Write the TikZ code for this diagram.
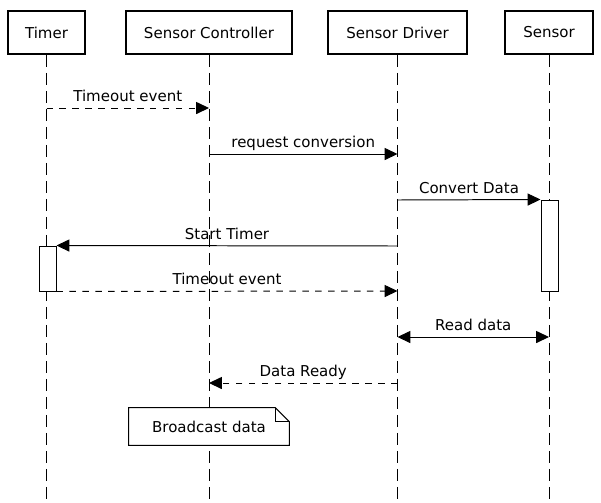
\documentclass[tikz,border=0pt]{standalone}
\usepackage{fontspec}
\setmainfont{DejaVu Sans}
\usetikzlibrary{arrows.meta}

\tikzset{
	actor/.style={draw, line width=1.4pt, minimum height=1.075cm, inner sep=0pt},
	lifeline/.style={line width=0.7pt, dash pattern=on 8.5pt off 4.3pt},
	msg/.style={->, line width=0.7pt},
	reply/.style={msg, dash pattern=on 4.6pt off 4.6pt},
	act/.style={draw, fill=white, line width=0.7pt, minimum width=0.425cm, inner sep=0pt},
	note/.style={fill=white, minimum width=4cm, minimum height=0.925cm, inner sep=0pt},
	txt/.style={midway, above, inner sep=4.3pt, text depth=0pt}
}

\begin{document}
\begin{tikzpicture}[x=0.025cm, y=-0.025cm, >={Triangle[length=0.32cm,width=0.3cm]},
		font=\fontsize{10.67pt}{12.8pt}\selectfont]
		\useasboundingbox (0,0) rectangle (601,502);
		% participants
		\node[actor, minimum width=1.925cm] (timer) at (46.5,32.5) {Timer};
		\node[actor, minimum width=4.15cm] (ctrl) at (209,32.5) {Sensor Controller};
		\node[actor, minimum width=3.475cm] (driver) at (397.5,32.5) {Sensor Driver};
		\node[actor, minimum width=2.2cm] (sensor) at (549,32.5) {Sensor};
		% lifelines
		\coordinate (timer end) at (46.5,502);
		\coordinate (ctrl end) at (209,502);
		\coordinate (driver end) at (397.5,502);
		\coordinate (sensor end) at (549,502);
		\draw[lifeline] (timer) -- (timer end);
		\draw[lifeline] (ctrl) -- (ctrl end);
		\draw[lifeline] (driver) -- (driver end);
		\draw[lifeline] (sensor) -- (sensor end);
		% activations
		\node[act, minimum height=1.125cm] (timer act) at (47.5,268.5) {};
		\node[act, minimum height=2.275cm] (sensor act) at (549.5,245.5) {};
		% message ends
		\path (46.5,108) coordinate (t1) (209,108) coordinate (c1)
			(209,154) coordinate (c2) (397.5,154) coordinate (d2)
			(397.5,200) coordinate (d3)
			(397.5,246) coordinate (d4)
			(397.5,291) coordinate (d5)
			(397.5,337) coordinate (d6) (549,337) coordinate (s6)
			(397.5,383) coordinate (d7) (209,383) coordinate (c7);
		% messages
		\draw[reply] (t1) -- (c1) node[txt] {Timeout event};
		\draw[msg] (c2) -- (d2) node[txt] {request conversion};
		\draw[msg] (d3) -- (sensor act.north west) node[txt] {Convert Data};
		\draw[msg] (d4) -- (timer act.north east) node[txt] {Start Timer};
		\draw[reply] (timer act.south east) -- (d5) node[txt] {Timeout event};
		\draw[msg, <->] (d6) -- (s6) node[txt] {Read data};
		\draw[reply] (d7) -- (c7) node[txt] {Data Ready};
		% note
		\node[note] (bcast) at (209,426.5) {Broadcast data};
		\draw[line width=0.7pt] (bcast.north west) -- ([xshift=-0.35cm]bcast.north east)
			-- ([yshift=-0.35cm]bcast.north east) -- (bcast.south east) -- (bcast.south west) -- cycle;
		\draw[line width=0.7pt] ([xshift=-0.35cm]bcast.north east) |- ([yshift=-0.35cm]bcast.north east);
	\end{tikzpicture}
\end{document}
